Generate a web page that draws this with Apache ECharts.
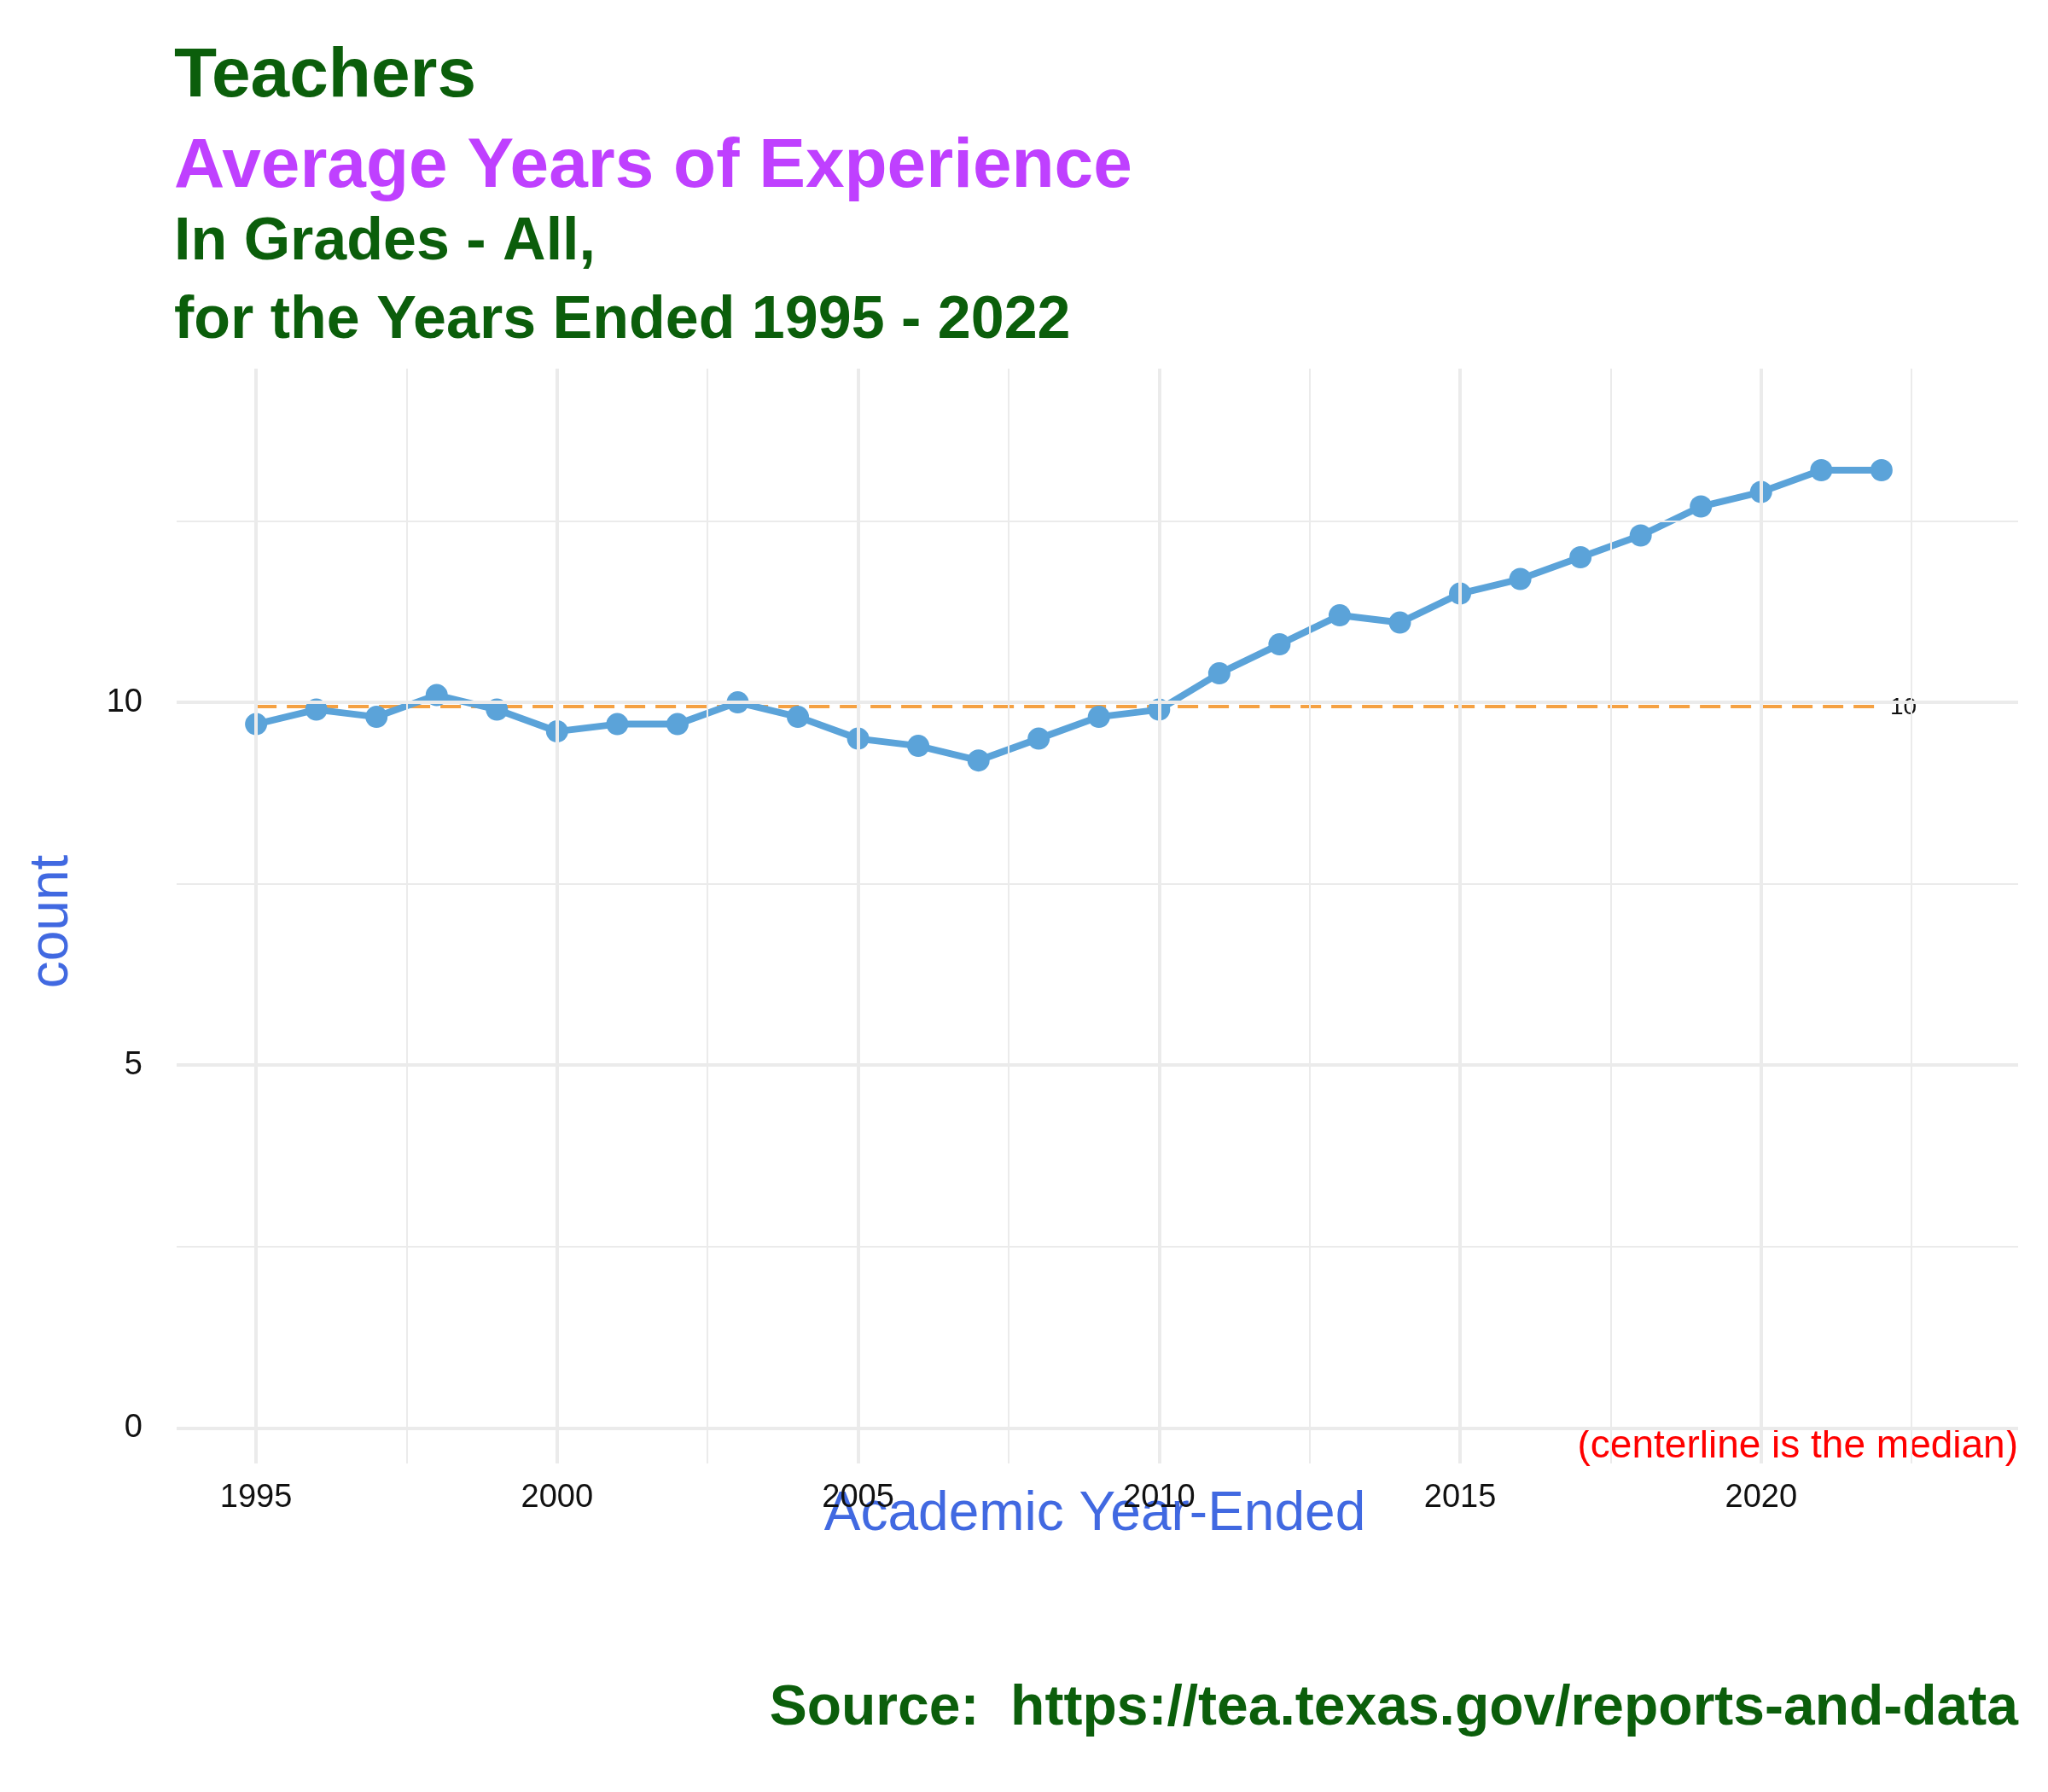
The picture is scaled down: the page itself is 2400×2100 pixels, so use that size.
<!DOCTYPE html>
<html>
<head>
<script src="https://cdn.jsdelivr.net/npm/echarts@6/dist/echarts.min.js"></script>
<style>body{margin:0;background:#fff}#c{width:2400px;height:2100px}</style>
</head>
<body>
<div id="c"></div>
<script>
var years = [1995,1996,1997,1998,1999,2000,2001,2002,2003,2004,2005,2006,2007,2008,2009,2010,2011,2012,2013,2014,2015,2016,2017,2018,2019,2020,2021,2022];
var counts = [9.7,9.9,9.8,10.1,9.9,9.6,9.7,9.7,10.0,9.8,9.5,9.4,9.2,9.5,9.8,9.9,10.4,10.8,11.2,11.1,11.5,11.7,12.0,12.3,12.7,12.9,13.2,13.2];
var median = 9.95;
var yMajor = [0,5,10];
var yMinor = [2.5,7.5,12.5];
var xMajor = [1995,2000,2005,2010,2015,2020];
var xMinor = [1997.5,2002.5,2007.5,2012.5,2017.5,2022.5];

var font = '"Liberation Sans", Helvetica, Arial, sans-serif';
var green = '#0B5E0B';
var grid = '#EBEBEB';

function hLines(vals, w) {
  return vals.map(function (v) { return { yAxis: v, lineStyle: { color: grid, width: w, type: 'solid' } }; });
}
function vLines(vals, w) {
  return vals.map(function (v) { return { xAxis: v, lineStyle: { color: grid, width: w, type: 'solid' } }; });
}

var chart = echarts.init(document.getElementById('c'));
chart.setOption({
  backgroundColor: '#fff',
  animation: false,
  grid: { left: 207, right: 35, top: 432, bottom: 385 },
  xAxis: {
    type: 'value', min: 1993.68, max: 2024.27,
    splitLine: { show: false }, axisLine: { show: false }, axisTick: { show: false },
    axisLabel: {
      customValues: xMajor, fontSize: 38, color: '#111', fontFamily: font, margin: 8,
      formatter: function (v) { return String(v); }
    }
  },
  yAxis: {
    type: 'value', min: -0.49, max: 14.6,
    splitLine: { show: false }, axisLine: { show: false }, axisTick: { show: false },
    axisLabel: {
      customValues: yMajor, fontSize: 38, color: '#111', fontFamily: font, margin: 40
    }
  },
  series: [
    {
      type: 'line', data: [], silent: true, z: 1,
      markLine: {
        silent: true, symbol: 'none', label: { show: false }, animation: false,
        data: hLines(yMajor, 4).concat(hLines(yMinor, 2), vLines(xMajor, 4), vLines(xMinor, 2))
      }
    },
    {
      type: 'line', z: 3,
      data: years.map(function (y, i) { return [y, counts[i]]; }),
      symbol: 'circle', symbolSize: 26,
      lineStyle: { color: '#5BA3D9', width: 8 },
      itemStyle: { color: '#5BA3D9' },
      markLine: {
        silent: true, symbol: 'none', z: 2,
        lineStyle: { color: '#F5A142', width: 4, type: [24, 12] },
        label: { show: false },
        data: [[{ coord: [1995, median] }, { coord: [2022, median] }]]
      }
    }
  ],
  graphic: [
    { type: 'text', left: 204, top: 20, style: { text: 'Teachers', font: 'bold 82px ' + font, fill: green } },
    { type: 'text', left: 204, top: 126, style: { text: 'Average Years of Experience', font: 'bold 82px ' + font, fill: '#BF40FF' } },
    { type: 'text', left: 204, top: 224, style: { text: 'In Grades - All,', font: 'bold 70px ' + font, fill: green } },
    { type: 'text', left: 204, top: 316, style: { text: 'for the Years Ended 1995 - 2022', font: 'bold 70px ' + font, fill: green } },
    { type: 'text', x: 2215, y: 829, style: { text: '10', font: '28px ' + font, fill: '#111', verticalAlign: 'middle' } },
    { type: 'text', x: 2365, y: 1695, style: { text: '(centerline is the median)', font: '46px ' + font, fill: '#FF0000', align: 'right', verticalAlign: 'middle' } },
    { type: 'text', x: 1283, y: 1775, style: { text: 'Academic Year-Ended', font: '64px ' + font, fill: '#4169E1', align: 'center', verticalAlign: 'middle' } },
    { type: 'text', x: 61, y: 1080, rotation: Math.PI / 2, style: { text: 'count', font: '64px ' + font, fill: '#4169E1', align: 'center', verticalAlign: 'middle' } },
    { type: 'text', x: 2365, y: 2003, style: { text: 'Source:  https://tea.texas.gov/reports-and-data', font: 'bold 66px ' + font, fill: green, align: 'right', verticalAlign: 'middle' } }
  ]
});
</script>
</body>
</html>
